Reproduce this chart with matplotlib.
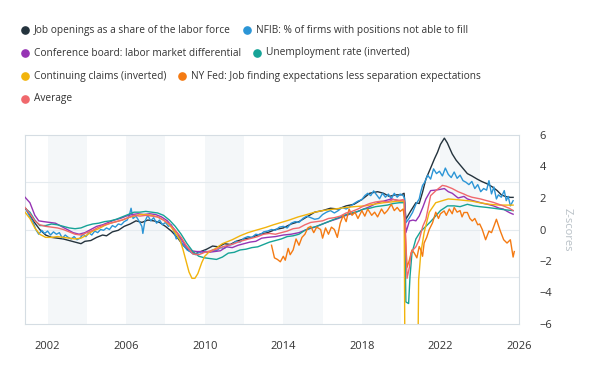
import matplotlib
matplotlib.use("Agg")
import matplotlib.pyplot as plt
from matplotlib.lines import Line2D

plt.rcParams["font.family"] = ["Open Sans", "DejaVu Sans"]

# series as (year, z-score) pairs
jolts = [(2000.9, 1.3), (2001.1, 0.9), (2001.3, 0.5), (2001.6, 0.0), (2001.9, -0.35), (2002.2, -0.5),
         (2002.5, -0.55), (2002.8, -0.6), (2003.1, -0.7), (2003.4, -0.8), (2003.7, -0.9), (2003.9, -0.75),
         (2004.2, -0.7), (2004.5, -0.5), (2004.8, -0.35), (2005.0, -0.4), (2005.3, -0.15), (2005.6, -0.05),
         (2005.9, 0.2), (2006.2, 0.35), (2006.5, 0.55), (2006.8, 0.45), (2007.1, 0.6), (2007.4, 0.55),
         (2007.7, 0.45), (2008.0, 0.2), (2008.3, -0.1), (2008.6, -0.5), (2008.9, -1.0), (2009.2, -1.35),
         (2009.5, -1.55), (2009.8, -1.4), (2010.1, -1.25), (2010.4, -1.05), (2010.7, -1.1), (2011.0, -0.9),
         (2011.3, -0.95), (2011.6, -0.75), (2012.0, -0.6), (2012.4, -0.5), (2012.8, -0.3), (2013.2, -0.2),
         (2013.6, 0.0), (2014.0, 0.1), (2014.4, 0.35), (2014.8, 0.5), (2015.2, 0.8), (2015.6, 1.1),
         (2016.0, 1.2), (2016.4, 1.35), (2016.8, 1.3), (2017.2, 1.5), (2017.6, 1.6), (2018.0, 1.9),
         (2018.4, 2.3), (2018.8, 2.4), (2019.1, 2.3), (2019.4, 2.1), (2019.7, 2.2), (2020.0, 2.2),
         (2020.15, 2.3), (2020.24, 0.65), (2020.5, 1.2), (2020.75, 1.7), (2020.92, 1.65), (2021.09, 2.37),
         (2021.26, 3.2), (2021.5, 3.9), (2021.7, 4.5), (2021.85, 4.9), (2022.0, 5.4), (2022.2, 5.8),
         (2022.35, 5.5), (2022.6, 4.8), (2022.8, 4.4), (2023.0, 4.1), (2023.37, 3.55), (2023.6, 3.4),
         (2023.87, 3.2), (2024.1, 3.05), (2024.38, 2.9), (2024.65, 2.7), (2024.89, 2.47), (2025.1, 2.2),
         (2025.3, 2.1), (2025.56, 2.04), (2025.7, 2.04)]

nfib = [(2000.9, 1.3), (2001.1, 0.8), (2001.25, 0.5), (2001.4, 0.0), (2001.55, -0.3), (2001.7, -0.05),
        (2001.85, -0.25), (2002.0, -0.1), (2002.15, -0.35), (2002.3, -0.15), (2002.45, -0.3), (2002.6, -0.2),
        (2002.75, -0.55), (2002.9, -0.35), (2003.05, -0.5), (2003.2, -0.6), (2003.35, -0.45), (2003.5, -0.65),
        (2003.65, -0.55), (2003.8, -0.3), (2003.95, -0.45), (2004.1, -0.2), (2004.25, -0.35), (2004.4, -0.1),
        (2004.55, -0.2), (2004.7, 0.0), (2004.85, -0.05), (2005.0, 0.1), (2005.15, 0.0), (2005.3, 0.25),
        (2005.45, 0.15), (2005.6, 0.35), (2005.75, 0.3), (2005.9, 0.5), (2006.05, 0.6), (2006.15, 0.85),
        (2006.25, 1.35), (2006.35, 0.7), (2006.5, 0.85), (2006.65, 0.55), (2006.8, 0.2), (2006.85, -0.25),
        (2006.95, 0.5), (2007.1, 0.9), (2007.25, 0.55), (2007.4, 0.75), (2007.55, 0.4), (2007.7, 0.6),
        (2007.85, 0.3), (2008.0, 0.45), (2008.15, 0.2), (2008.3, 0.3), (2008.45, -0.2), (2008.55, -0.6),
        (2008.65, -0.35), (2008.8, -0.8), (2008.95, -1.05), (2009.1, -1.3), (2009.25, -1.4), (2009.4, -1.55),
        (2009.55, -1.6), (2009.7, -1.45), (2009.85, -1.5), (2010.0, -1.35), (2010.2, -1.45), (2010.4, -1.3),
        (2010.6, -1.35), (2010.8, -1.15), (2011.0, -1.2), (2011.2, -1.0), (2011.4, -0.95), (2011.6, -0.75),
        (2011.8, -0.8), (2012.0, -0.55), (2012.2, -0.45), (2012.4, -0.5), (2012.6, -0.3), (2012.8, -0.35),
        (2013.0, -0.15), (2013.2, -0.1), (2013.4, 0.0), (2013.6, -0.05), (2013.8, 0.15), (2014.0, 0.2),
        (2014.2, 0.1), (2014.4, 0.4), (2014.6, 0.5), (2014.8, 0.45), (2015.0, 0.7), (2015.2, 0.85),
        (2015.4, 0.75), (2015.6, 0.65), (2015.8, 0.7), (2016.0, 0.95), (2016.2, 1.1), (2016.4, 1.2),
        (2016.6, 1.05), (2016.8, 1.2), (2017.0, 1.4), (2017.2, 1.3), (2017.4, 1.45), (2017.6, 1.65),
        (2017.8, 1.8), (2018.0, 1.9), (2018.15, 2.15), (2018.3, 2.3), (2018.45, 2.15), (2018.6, 2.45),
        (2018.75, 2.2), (2018.9, 1.95), (2019.05, 2.3), (2019.2, 2.05), (2019.35, 2.25), (2019.5, 1.95),
        (2019.65, 2.3), (2019.8, 2.05), (2019.95, 2.25), (2020.1, 2.15), (2020.17, 2.0), (2020.24, 0.43),
        (2020.4, 0.7), (2020.58, 1.08), (2020.75, 1.6), (2020.92, 1.94), (2021.0, 2.4), (2021.09, 2.8),
        (2021.2, 3.0), (2021.35, 3.45), (2021.5, 3.2), (2021.65, 3.85), (2021.8, 3.55), (2021.95, 3.7),
        (2022.1, 3.4), (2022.25, 3.9), (2022.4, 3.5), (2022.55, 3.3), (2022.7, 3.65), (2022.85, 3.25),
        (2023.0, 3.45), (2023.15, 3.1), (2023.3, 3.0), (2023.45, 2.85), (2023.6, 3.05), (2023.75, 2.6),
        (2023.9, 2.85), (2024.05, 2.4), (2024.2, 2.6), (2024.35, 2.5), (2024.47, 3.1), (2024.6, 2.26),
        (2024.72, 2.7), (2024.85, 1.94), (2024.95, 2.2), (2025.1, 2.05), (2025.25, 2.47), (2025.35, 1.83),
        (2025.45, 2.1), (2025.56, 1.5), (2025.7, 1.83)]

conf_board = [(2000.85, 2.05), (2001.1, 1.7), (2001.35, 0.9), (2001.55, 0.55), (2001.8, 0.5), (2002.1, 0.45),
              (2002.4, 0.4), (2002.7, 0.2), (2003.0, 0.0), (2003.3, -0.2), (2003.6, -0.3), (2003.9, -0.2),
              (2004.2, 0.0), (2004.5, 0.2), (2004.8, 0.3), (2005.1, 0.45), (2005.4, 0.6), (2005.7, 0.7),
              (2006.0, 0.85), (2006.3, 0.95), (2006.6, 1.0), (2006.9, 0.95), (2007.2, 1.0), (2007.5, 0.95),
              (2007.8, 0.8), (2008.1, 0.55), (2008.4, 0.1), (2008.7, -0.4), (2009.0, -1.0), (2009.3, -1.35),
              (2009.6, -1.4), (2009.9, -1.4), (2010.2, -1.45), (2010.5, -1.4), (2010.8, -1.35), (2011.1, -1.1),
              (2011.4, -1.15), (2011.7, -1.0), (2012.0, -0.9), (2012.3, -0.8), (2012.6, -0.75), (2012.9, -0.55),
              (2013.2, -0.5), (2013.6, -0.45), (2014.0, -0.35), (2014.4, -0.3), (2014.8, -0.2), (2015.2, 0.0),
              (2015.6, 0.15), (2016.0, 0.35), (2016.4, 0.54), (2016.8, 0.7), (2017.2, 0.9), (2017.6, 1.05),
              (2018.0, 1.25), (2018.4, 1.45), (2018.8, 1.7), (2019.1, 1.8), (2019.5, 1.94), (2019.8, 1.85),
              (2020.1, 1.8), (2020.17, 1.75), (2020.24, -0.2), (2020.42, 0.54), (2020.6, 0.6), (2020.75, 0.55),
              (2020.92, 0.86), (2021.1, 1.4), (2021.26, 1.94), (2021.5, 2.47), (2021.75, 2.5), (2022.0, 2.55),
              (2022.2, 2.6), (2022.4, 2.4), (2022.6, 2.3), (2022.9, 2.0), (2023.2, 2.1), (2023.37, 1.94),
              (2023.6, 1.85), (2023.9, 1.75), (2024.2, 1.65), (2024.4, 1.6), (2024.7, 1.5), (2025.0, 1.35),
              (2025.2, 1.3), (2025.4, 1.15), (2025.55, 1.05), (2025.7, 0.97)]

unemployment = [(2000.85, 1.35), (2001.1, 1.1), (2001.35, 0.6), (2001.6, 0.25), (2001.9, 0.25), (2002.2, 0.35),
                (2002.5, 0.3), (2002.8, 0.2), (2003.1, 0.1), (2003.4, 0.05), (2003.7, 0.1), (2004.0, 0.25),
                (2004.3, 0.35), (2004.6, 0.4), (2004.9, 0.5), (2005.2, 0.55), (2005.5, 0.65), (2005.8, 0.8),
                (2006.1, 0.95), (2006.4, 1.1), (2006.7, 1.1), (2007.0, 1.15), (2007.3, 1.1), (2007.6, 1.05),
                (2007.9, 0.9), (2008.2, 0.6), (2008.5, 0.2), (2008.8, -0.3), (2009.1, -0.9), (2009.4, -1.4),
                (2009.7, -1.7), (2010.0, -1.8), (2010.3, -1.85), (2010.6, -1.9), (2010.9, -1.75), (2011.2, -1.5),
                (2011.5, -1.45), (2011.8, -1.3), (2012.1, -1.25), (2012.4, -1.15), (2012.7, -1.1), (2013.0, -0.95),
                (2013.3, -0.8), (2013.6, -0.7), (2013.9, -0.6), (2014.2, -0.45), (2014.5, -0.4), (2014.8, -0.3),
                (2015.1, -0.05), (2015.4, 0.1), (2015.7, 0.2), (2016.0, 0.35), (2016.3, 0.5), (2016.6, 0.65),
                (2016.9, 0.8), (2017.2, 0.95), (2017.5, 1.05), (2017.8, 1.15), (2018.1, 1.3), (2018.4, 1.35),
                (2018.7, 1.45), (2019.0, 1.5), (2019.3, 1.55), (2019.6, 1.65), (2019.9, 1.7), (2020.17, 1.7),
                (2020.24, -4.6), (2020.38, -4.7), (2020.45, -3.0), (2020.55, -1.5), (2020.75, -0.6),
                (2021.0, -0.1), (2021.26, 0.2), (2021.5, 0.5), (2021.76, 0.86), (2022.0, 1.2), (2022.36, 1.5),
                (2022.7, 1.5), (2023.0, 1.45), (2023.37, 1.6), (2023.7, 1.5), (2024.0, 1.45), (2024.38, 1.4),
                (2024.7, 1.35), (2025.0, 1.3), (2025.3, 1.25), (2025.7, 1.2)]

claims = [(2000.85, 1.1), (2001.1, 0.7), (2001.35, 0.1), (2001.6, -0.3), (2001.9, -0.5), (2002.2, -0.5),
          (2002.5, -0.45), (2002.8, -0.5), (2003.1, -0.55), (2003.4, -0.6), (2003.7, -0.55), (2004.0, -0.35),
          (2004.3, -0.1), (2004.6, 0.05), (2004.9, 0.25), (2005.2, 0.4), (2005.5, 0.5), (2005.8, 0.6),
          (2006.1, 0.75), (2006.4, 0.85), (2006.7, 0.95), (2007.0, 0.95), (2007.3, 0.9), (2007.6, 0.8),
          (2007.9, 0.6), (2008.2, 0.3), (2008.5, -0.2), (2008.75, -0.7), (2008.9, -1.3), (2009.05, -2.0),
          (2009.2, -2.7), (2009.35, -3.1), (2009.5, -3.1), (2009.65, -2.8), (2009.85, -2.1), (2010.0, -1.7),
          (2010.2, -1.45), (2010.56, -1.2), (2010.9, -0.9), (2011.4, -0.65), (2011.8, -0.4), (2012.2, -0.2),
          (2012.6, -0.05), (2013.1, 0.13), (2013.5, 0.3), (2013.9, 0.45), (2014.3, 0.6), (2014.76, 0.8),
          (2015.2, 0.95), (2015.6, 1.1), (2016.0, 1.2), (2016.6, 1.3), (2017.2, 1.4), (2017.6, 1.45),
          (2018.15, 1.5), (2018.6, 1.6), (2019.1, 1.7), (2019.5, 1.75), (2019.8, 1.8), (2020.15, 1.8),
          (2020.22, -15.0), (2020.8, -15.0), (2020.89, -3.2), (2021.0, -1.5), (2021.17, -0.2), (2021.43, 1.1),
          (2021.76, 1.7), (2022.1, 1.83), (2022.4, 1.94), (2022.8, 1.9), (2023.2, 1.85), (2023.6, 1.8),
          (2024.0, 1.7), (2024.5, 1.6), (2025.0, 1.55), (2025.4, 1.55), (2025.7, 1.55)]

ny_fed = [(2013.4, -1.0), (2013.55, -1.8), (2013.7, -1.9), (2013.85, -2.05), (2014.0, -1.7), (2014.1, -1.95),
          (2014.25, -1.2), (2014.35, -1.6), (2014.5, -1.3), (2014.65, -0.6), (2014.8, -1.0), (2014.95, -0.5),
          (2015.1, -0.3), (2015.25, 0.1), (2015.4, 0.2), (2015.55, -0.2), (2015.7, 0.15), (2015.9, 0.0),
          (2016.0, -0.55), (2016.15, 0.1), (2016.3, -0.3), (2016.45, 0.15), (2016.6, 0.0), (2016.75, -0.5),
          (2016.9, 0.4), (2017.05, 0.9), (2017.2, 0.5), (2017.35, 1.3), (2017.5, 0.9), (2017.65, 1.1),
          (2017.8, 0.7), (2018.0, 1.2), (2018.15, 0.85), (2018.3, 1.3), (2018.5, 0.9), (2018.65, 1.1),
          (2018.8, 0.8), (2019.0, 1.3), (2019.15, 1.0), (2019.3, 1.2), (2019.5, 1.6), (2019.65, 1.2),
          (2019.8, 1.4), (2019.95, 1.15), (2020.1, 1.3), (2020.17, 0.75), (2020.3, -2.4), (2020.42, -1.94),
          (2020.55, -1.3), (2020.67, -1.5), (2020.8, -1.8), (2020.92, -1.08), (2021.0, -1.3), (2021.09, -1.7),
          (2021.17, -0.86), (2021.3, -0.5), (2021.43, 0.0), (2021.6, 0.43), (2021.76, 1.1), (2021.9, 0.7),
          (2022.0, 1.0), (2022.19, 1.18), (2022.3, 0.9), (2022.45, 1.3), (2022.6, 1.0), (2022.7, 1.4),
          (2022.85, 1.1), (2023.0, 1.2), (2023.1, 0.8), (2023.2, 1.08), (2023.37, 1.08), (2023.5, 0.7),
          (2023.62, 0.54), (2023.75, 0.7), (2023.9, 0.3), (2024.0, 0.35), (2024.13, 0.0), (2024.3, -0.65),
          (2024.47, -0.1), (2024.6, -0.2), (2024.72, 0.2), (2024.85, 0.65), (2025.05, -0.1), (2025.22, -0.65),
          (2025.39, -0.86), (2025.56, -0.65), (2025.7, -1.75), (2025.76, -1.4)]

average = [(2000.85, 1.4), (2001.1, 1.0), (2001.35, 0.55), (2001.6, 0.3), (2001.9, 0.2), (2002.2, 0.15),
           (2002.5, 0.1), (2002.8, 0.0), (2003.1, -0.15), (2003.4, -0.3), (2003.7, -0.35), (2004.0, -0.2),
           (2004.3, -0.05), (2004.6, 0.15), (2004.9, 0.3), (2005.2, 0.4), (2005.5, 0.5), (2005.8, 0.6),
           (2006.1, 0.75), (2006.4, 0.9), (2006.7, 0.85), (2007.0, 0.9), (2007.3, 0.85), (2007.6, 0.8),
           (2007.9, 0.6), (2008.2, 0.35), (2008.5, -0.05), (2008.8, -0.5), (2009.1, -1.1), (2009.4, -1.55),
           (2009.7, -1.6), (2010.0, -1.45), (2010.3, -1.35), (2010.6, -1.25), (2010.9, -1.1), (2011.2, -1.0),
           (2011.5, -0.9), (2011.8, -0.75), (2012.1, -0.65), (2012.4, -0.55), (2012.7, -0.45), (2013.0, -0.3),
           (2013.3, -0.25), (2013.6, -0.3), (2013.9, -0.2), (2014.2, -0.1), (2014.5, 0.05), (2014.8, 0.1),
           (2015.1, 0.3), (2015.4, 0.45), (2015.7, 0.5), (2016.0, 0.55), (2016.3, 0.7), (2016.6, 0.75),
           (2016.9, 0.85), (2017.2, 1.05), (2017.5, 1.15), (2017.8, 1.3), (2018.1, 1.5), (2018.4, 1.65),
           (2018.7, 1.75), (2019.0, 1.8), (2019.3, 1.75), (2019.6, 1.9), (2019.9, 1.85), (2020.1, 1.9),
           (2020.17, 1.8), (2020.24, -1.0), (2020.3, -3.1), (2020.42, -2.4), (2020.5, -1.5), (2020.6, -1.3),
           (2020.75, -1.1), (2020.92, -0.65), (2021.1, 0.2), (2021.26, 0.65), (2021.5, 2.15), (2021.8, 2.5),
           (2022.1, 2.8), (2022.3, 2.75), (2022.6, 2.6), (2022.9, 2.4), (2023.2, 2.25), (2023.37, 2.15),
           (2023.6, 2.05), (2024.04, 1.94), (2024.3, 1.85), (2024.7, 1.72), (2025.2, 1.5), (2025.5, 1.35),
           (2025.7, 1.2)]

series_names = ["Job openings as a share of the labor force",
                "NFIB: % of firms with positions not able to fill",
                "Conference board: labor market differential",
                "Unemployment rate (inverted)",
                "Continuing claims (inverted)",
                "NY Fed: Job finding expectations less separation expectations",
                "Average"]
series_data = [jolts, nfib, conf_board, unemployment, claims, ny_fed, average]
colors = ["#24333d", "#2b95d6", "#9634b4", "#16a397", "#f2b40c", "#f47a12", "#f0686c"]

x_ticks = [2002, 2006, 2010, 2014, 2018, 2022, 2026]
y_ticks = [-6, -4, -2, 0, 2, 4, 6]

W, H = 600, 376
fig = plt.figure(figsize=(W / 100, H / 100), dpi=100)
ax = fig.add_axes([25 / W, 1 - 324 / H, (519 - 25) / W, (324 - 135) / H])

# alternating year bands
for y0 in x_ticks[:-1]:
    ax.axvspan(y0, y0 + 2, color="#f4f7f9", lw=0, zorder=0)
for g in (-3, 0, 3):
    ax.axhline(g, color="#e5ebef", lw=0.8, zorder=1)

for data, c in zip(series_data, colors):
    xs = [p[0] for p in data]
    ys = [p[1] for p in data]
    ax.plot(xs, ys, color=c, lw=1.0, solid_joinstyle="round", zorder=3)

ax.set_xlim(2000.85, 2026.0)
ax.set_ylim(-6, 6)
ax.set_xticks(x_ticks)
ax.set_yticks(y_ticks)
ax.yaxis.tick_right()
ax.tick_params(axis="x", length=0, pad=12, labelsize=8, labelcolor="#333333")
ax.tick_params(axis="y", length=0, pad=15, labelsize=8, labelcolor="#333333")
for s in ax.spines.values():
    s.set_color("#d5dde3")
    s.set_linewidth(0.8)

fig.text(567 / W, 1 - 230 / H, "Z-scores", rotation=270, color="#b8c0c6",
         fontsize=8, ha="center", va="center")

# legend laid out like the original, items flow left to right
rows = [[0, 1], [2, 3], [4, 5], [6]]
row_y = [30, 53, 76, 99]
renderer = fig.canvas.get_renderer()
for r, items in enumerate(rows):
    mx = 25
    for i in items:
        yy = 1 - row_y[r] / H
        fig.add_artist(Line2D([mx / W], [yy], marker="o", markersize=5.2, color=colors[i],
                              linestyle="none", transform=fig.transFigure))
        t = fig.text((mx + 9) / W, yy, series_names[i], fontsize=7.3, color="#333333",
                     ha="left", va="center")
        bb = t.get_window_extent(renderer)
        mx = bb.x1 + 16

fig.savefig("out.png", dpi=100)
